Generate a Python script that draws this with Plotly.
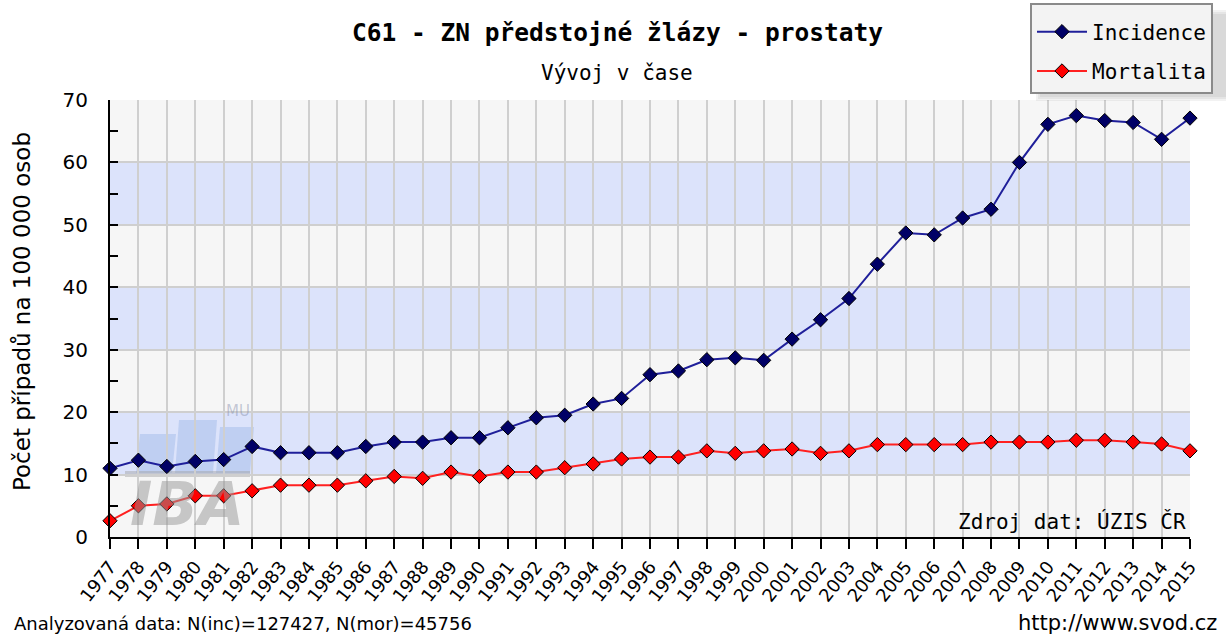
import plotly.graph_objects as go

# Rok, incidence a mortalita (počet případů na 100 000 osob)
years = [1977, 1978, 1979, 1980, 1981, 1982, 1983, 1984, 1985, 1986,
         1987, 1988, 1989, 1990, 1991, 1992, 1993, 1994, 1995, 1996,
         1997, 1998, 1999, 2000, 2001, 2002, 2003, 2004, 2005, 2006,
         2007, 2008, 2009, 2010, 2011, 2012, 2013, 2014, 2015]
incidence = [11.0, 12.3, 11.3, 12.1, 12.4, 14.5, 13.5, 13.5, 13.5, 14.5,
             15.2, 15.2, 15.9, 15.9, 17.5, 19.1, 19.5, 21.3, 22.2, 26.0,
             26.6, 28.4, 28.7, 28.3, 31.7, 34.8, 38.2, 43.7, 48.7, 48.4,
             51.1, 52.5, 60.0, 66.1, 67.5, 66.7, 66.4, 63.7, 67.1]
mortalita = [2.6, 5.0, 5.3, 6.6, 6.6, 7.4, 8.3, 8.3, 8.3, 9.0,
             9.7, 9.4, 10.4, 9.7, 10.4, 10.4, 11.1, 11.7, 12.5, 12.8,
             12.8, 13.8, 13.4, 13.8, 14.1, 13.4, 13.8, 14.8, 14.8, 14.8,
             14.8, 15.2, 15.2, 15.2, 15.5, 15.5, 15.2, 14.9, 13.8]
y_ticks = [0, 10, 20, 30, 40, 50, 60, 70]
band_edges = [(10, 20), (30, 40), (50, 60)]

W, H = 1226, 635
ML, MR, MT, MB = 110, 36, 100, 98
PW, PH = W - ML - MR, H - MT - MB


def px(x):
    return (x - ML) / PW


def py(y):
    return (H - MB - y) / PH


MONO = "DejaVu Sans Mono"
SANS = "DejaVu Sans"

fig = go.Figure()
fig.add_trace(go.Scatter(
    x=years, y=incidence, name="Incidence", mode="lines+markers",
    legendgroup="inc", cliponaxis=False,
    line=dict(color="#1f1f9a", width=2),
    marker=dict(symbol="diamond", size=11, color="#000066",
                line=dict(color="#000000", width=1)),
))
fig.add_trace(go.Scatter(
    x=years, y=mortalita, name="Mortalita", mode="lines+markers",
    legendgroup="mor", cliponaxis=False,
    line=dict(color="#ff2020", width=2),
    marker=dict(symbol="diamond", size=11, color="#ff0000",
                line=dict(color="#000000", width=1)),
))

shapes = []
# Modré pruhy v pozadí grafu
for lo, hi in band_edges:
    shapes.append(dict(type="rect", xref="paper", yref="y", x0=0, x1=1,
                       y0=lo, y1=hi, fillcolor="#dce3fb", line_width=0,
                       layer="below"))

# Vodoznak IBA MU
wm_bars = [(136, 172, 434), (175, 213, 420), (216, 250, 427)]
for x0, x1, ytop in wm_bars:
    path = (f"M {px(x0)},{py(473)} L {px(x1)},{py(473)} "
            f"L {px(x1 + 4)},{py(ytop)} L {px(x0 + 4)},{py(ytop)} Z")
    shapes.append(dict(type="path", xref="paper", yref="paper", path=path,
                       fillcolor="rgba(130,165,225,0.32)", line_width=0,
                       layer="below"))
shapes.append(dict(type="rect", xref="paper", yref="paper",
                   x0=px(125), x1=px(250), y0=py(477), y1=py(471),
                   fillcolor="rgba(160,160,160,0.45)", line_width=0,
                   layer="below"))

# Stín legendy
for i in range(3):
    shapes.append(dict(type="rect", xref="paper", yref="paper",
                       x0=px(1036 + 2 * i), x1=px(1232),
                       y0=py(101 - 2 * i), y1=py(10 + 2 * i),
                       fillcolor="rgba(0,0,0,0.05)", line_width=0,
                       layer="above"))


def note(text, x, y, size, family=SANS, xanchor="center", angle=0,
         color="#000000"):
    return dict(text=text, x=px(x), y=py(y), xref="paper", yref="paper",
                xanchor=xanchor, yanchor="middle", showarrow=False,
                textangle=angle, font=dict(family=family, size=size,
                                           color=color))


annotations = [
    note("<b>C61 - ZN předstojné žlázy - prostaty</b>", 617, 33, 24.5, MONO),
    note("Vývoj v čase", 617, 73, 21, MONO),
    note("Počet případů na 100 000 osob", 22, 312, 23, angle=-90),
    note("Zdroj dat: ÚZIS ČR", 1188, 521, 21, MONO, xanchor="right"),
    note("Analyzovaná data: N(inc)=127427, N(mor)=45756", 12, 623, 18,
         xanchor="left"),
    note("http://www.svod.cz", 1219, 623, 21, xanchor="right"),
    note("<b><i>IBA</i></b>", 187, 504, 60,
         color="rgba(150,150,150,0.5)"),
    note("MU", 238, 411, 15, color="rgba(130,140,170,0.45)"),
]

fig.update_layout(
    width=W, height=H,
    margin=dict(l=ML, r=MR, t=MT, b=MB, autoexpand=False),
    paper_bgcolor="#ffffff",
    plot_bgcolor="#f6f6f6",
    showlegend=True,
    legend=dict(
        x=px(1030), y=py(3), xanchor="left", yanchor="top",
        bgcolor="#f3f3f3", bordercolor="#8a8a8a", borderwidth=2,
        font=dict(family=MONO, size=21, color="#000000"),
        title=dict(text=" ", font=dict(size=5)),
        traceorder="grouped", tracegroupgap=9, itemwidth=50,
    ),
    shapes=shapes,
    annotations=annotations,
    xaxis=dict(
        range=[years[0], years[-1]], tickmode="array", tickvals=years,
        ticktext=[str(y) for y in years], tickangle=-52,
        ticks="outside", ticklen=10, tickwidth=2, tickcolor="#000000",
        showline=True, linecolor="#000000", linewidth=2,
        showgrid=True, gridcolor="#cfcfcf", gridwidth=2,
        zeroline=False,
        tickfont=dict(family=SANS, size=18, color="#000000"),
    ),
    yaxis=dict(
        range=[0, 70], tickmode="array", tickvals=y_ticks,
        ticks="inside", ticklen=8, tickwidth=2, tickcolor="#000000",
        ticklabelstandoff=16,
        minor=dict(dtick=5, ticks="inside", ticklen=8, tickwidth=2,
                   tickcolor="#000000", showgrid=False),
        showline=True, linecolor="#000000", linewidth=2,
        showgrid=True, gridcolor="#cfcfcf", gridwidth=2,
        zeroline=False,
        tickfont=dict(family=SANS, size=20, color="#000000"),
    ),
)

fig.write_html("out.html")
